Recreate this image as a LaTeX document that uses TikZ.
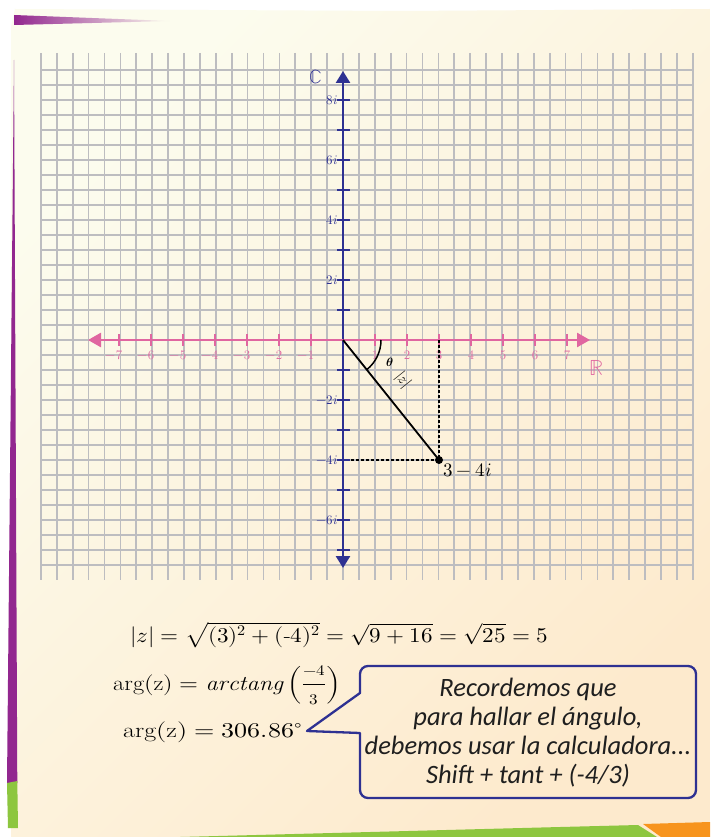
\documentclass[tikz,border=0pt]{standalone}
\usepackage{graphicx}
\usepackage{fontspec}
\usepackage{unicode-math}
\setmathfont{Latin Modern Math}
\newfontfamily\bubblefont{Carlito}
\usetikzlibrary{arrows.meta}
\definecolor{pinkax}{HTML}{E066A0}
\definecolor{blueax}{HTML}{2E3192}
\definecolor{gridc}{HTML}{BDBDC0}
\definecolor{purp}{HTML}{92278F}
\definecolor{grn}{HTML}{8DC63F}
\definecolor{orng}{HTML}{F7941D}
\definecolor{creamA}{HTML}{FCFCEE}
\definecolor{creamB}{HTML}{FDEACD}
\tikzset{
  gridline/.style={draw=gridc, line width=1.7pt},
  pinkaxis/.style={draw=pinkax, line width=2.6pt, {Triangle[length=13pt,width=14pt]}-{Triangle[length=13pt,width=14pt]}},
  blueaxis/.style={draw=blueax, line width=2.6pt, {Triangle[length=12pt,width=14pt]}-{Triangle[length=12pt,width=14pt]}},
  pinktick/.style={draw=pinkax, line width=2pt},
  bluetick/.style={draw=blueax, line width=2pt},
  pinklabel/.style={text=pinkax, font=\fontsize{13}{15}\selectfont, inner sep=0pt},
  bluelabel/.style={text=blueax, font=\fontsize{13}{15}\selectfont, inner sep=0pt, anchor=east},
  formula/.style={font=\fontsize{21}{24}\selectfont, anchor=base west, inner sep=0pt},
  bubble/.style={draw=blueax, line width=2.3pt, line join=round},
  bubbletext/.style={font=\bubblefont\itshape\fontsize{26.5}{29}\selectfont, align=center, text=black!88, inner sep=0pt},
}
\begin{document}
\begin{tikzpicture}[x=1pt,y=-1pt]
\useasboundingbox (0,0) rectangle (710,837);
\fill[white] (0,0) rectangle (710,837);
% sheet
\shade[top color=creamA, bottom color=creamB, shading angle=45]
  (11,27) -- (15,9) -- (400,11) -- (710,9) -- (710,837) -- (11,837) -- cycle;
% decorations
\shade[left color=purp, middle color=purp, right color=creamA] (14,15) -- (170,21) -- (14,25) -- cycle;
\fill[purp] (14,60) -- (17.3,783) -- (7,783) -- cycle;
\fill[grn] (7,783) -- (17.3,781) -- (18,828) -- (8,828) -- cycle;
\fill[grn] (180,837) -- (560,827) -- (638,825) -- (657,837) -- cycle;
\fill[orng] (643,824) -- (710,822) -- (710,837) -- (661,837) -- cycle;
% grid
\foreach \k in {-19,...,22}
  \draw[gridline] ({343+15.9*\k},53) -- ({343+15.9*\k},580);
\foreach \k in {-18,...,15}
  \draw[gridline] (41,{340+15*\k}) -- (693,{340+15*\k});
% axes
\coordinate (O) at (343,340);
\coordinate (xl) at (88,340);
\coordinate (xr) at (590,340);
\coordinate (yt) at (343,71);
\coordinate (yb) at (343,568);
\draw[blueaxis] (yb) -- (yt);
\draw[pinkaxis] (xl) -- (xr);
\foreach \n in {-7,...,-1,1,2,...,7}
  \draw[pinktick] ({343+32*\n},334) -- ({343+32*\n},346);
\foreach \n in {1,...,7}{
  \node[pinklabel] (rp\n) at ({343+32*\n},355) {\n};
  \node[pinklabel] (rn\n) at ({343-32*\n},355) {\llap{$-$}\n};
}
\foreach \n in {-7,...,-1,1,2,...,8}
  \draw[bluetick] (337,{340-30*\n}) -- (350,{340-30*\n});
\foreach \n in {2,4,6,8}
  \node[bluelabel] (ip\n) at (338,{340-30*\n}) {$\n i$};
\foreach \n in {2,4,6}
  \node[bluelabel] (in\n) at (338,{340+30*\n}) {$-\n i$};
\node[text=blueax, font=\fontsize{19}{20}\selectfont] (Clab) at (316,77) {$\mathbb{C}$};
\node[text=pinkax, font=\fontsize{22}{24}\selectfont] (Rlab) at (597,368) {$\mathbb{R}$};
% point
\coordinate (P) at (439,460);
\coordinate (Px) at (439,340);
\coordinate (Py) at (350,460);
\draw[black, line width=2.2pt, dash pattern=on 3pt off 2pt] (Px) -- (P) -- (Py);
\draw[black, line width=1.8pt] (O) -- (P);
\fill[black] (P) circle[radius=4pt];
\node[anchor=west, font=\fontsize{19}{21}\selectfont, inner sep=0pt] (Plab) at (443,470) {$3-4i$};
\draw[black, line width=1.5pt] (381,340) arc[start angle=0, end angle=51.3, radius=38];
\node[font=\fontsize{12}{14}\selectfont\bfseries, inner sep=0pt] (th) at (390,362) {$\symbfit{\theta}$};
\node[rotate=-51.3, font=\fontsize{15}{16}\selectfont, inner sep=0pt] (zlab) at (403,380) {$|z|$};
% formulas
\node[formula] (f1) at (130,642) {\scalebox{1.10}[1]{$|z| = \sqrt{(3)^2 + (\mbox{-}4)^2} = \sqrt{9+16} = \sqrt{25} = 5$}};
\node[formula] (f2) at (113,690) {\scalebox{1.16}[1]{$\mathrm{arg(z)} = \mathit{arctang}\left(\displaystyle\frac{\scriptstyle -4}{\scriptstyle 3}\right)$}};
\node[formula] (f3) at (123,737) {\scalebox{1.24}[1]{$\mathrm{arg(z)} = 306.86^\circ$}};
% bubble
\draw[bubble] (360,693) [rounded corners=8pt] -- (360,666) -- (696,666) -- (696,798) -- (360,798) [sharp corners] -- (360,733) -- (307,731) -- cycle;
\node[bubbletext] (btext) at (528,733) {Recordemos que\\para hallar el ángulo,\\debemos usar la calculadora...\\Shift + tant + (-4/3)};
\end{tikzpicture}
\end{document}
